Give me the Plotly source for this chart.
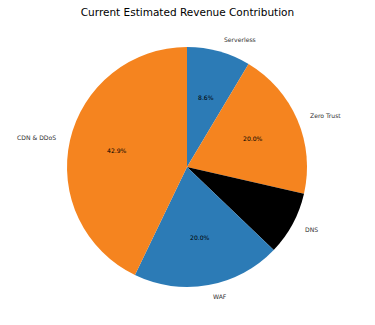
import math
import plotly.graph_objects as go

labels = ["Serverless", "Zero Trust", "DNS", "WAF", "CDN & DDoS"]
values = [3, 7, 3, 7, 15]
colors = ["#2c7bb6", "#f5841f", "#000000", "#2c7bb6", "#f5841f"]

W, H = 375, 325
cx, cy, r = 187, 167, 120  # pie centre/radius in pixels

fig = go.Figure(go.Pie(
    labels=labels, values=values, sort=False, direction="clockwise", rotation=0,
    marker=dict(colors=colors, line=dict(width=0)), textinfo="none",
    hoverinfo="label+percent", showlegend=False,
    domain=dict(x=[(cx - r) / W, (cx + r) / W], y=[1 - (cy + r) / H, 1 - (cy - r) / H]),
))

total = sum(values)
ann = []
cum = 0
for lab, v in zip(labels, values):
    mid = 90 - (cum + v / 2) / total * 360
    cum += v
    a = math.radians(mid)
    c, s = math.cos(a), math.sin(a)
    lx, ly = cx + 1.1 * r * c, cy - 1.1 * r * s
    ann.append(dict(x=lx / W, y=1 - ly / H, xref="paper", yref="paper", text=lab,
                    showarrow=False, xanchor="left" if c > 0 else "right", yanchor="middle",
                    font=dict(family="DejaVu Sans", size=6.1, color="#333")))
    px, py = cx + 0.6 * r * c, cy - 0.6 * r * s
    ann.append(dict(x=px / W, y=1 - py / H, xref="paper", yref="paper",
                    text=f"{v / total * 100:.1f}%", showarrow=False,
                    xanchor="center", yanchor="middle",
                    font=dict(family="DejaVu Sans", size=6.1, color="#000000")))

fig.update_layout(
    width=W, height=H, margin=dict(l=0, r=0, t=0, b=0),
    paper_bgcolor="white", plot_bgcolor="white",
    title=dict(text="Current Estimated Revenue Contribution", x=0.5, xanchor="center",
               y=1 - 12 / H, yanchor="middle",
               font=dict(family="DejaVu Sans", size=10.5, color="#000")),
    annotations=ann,
)
fig.write_html("out.html")
